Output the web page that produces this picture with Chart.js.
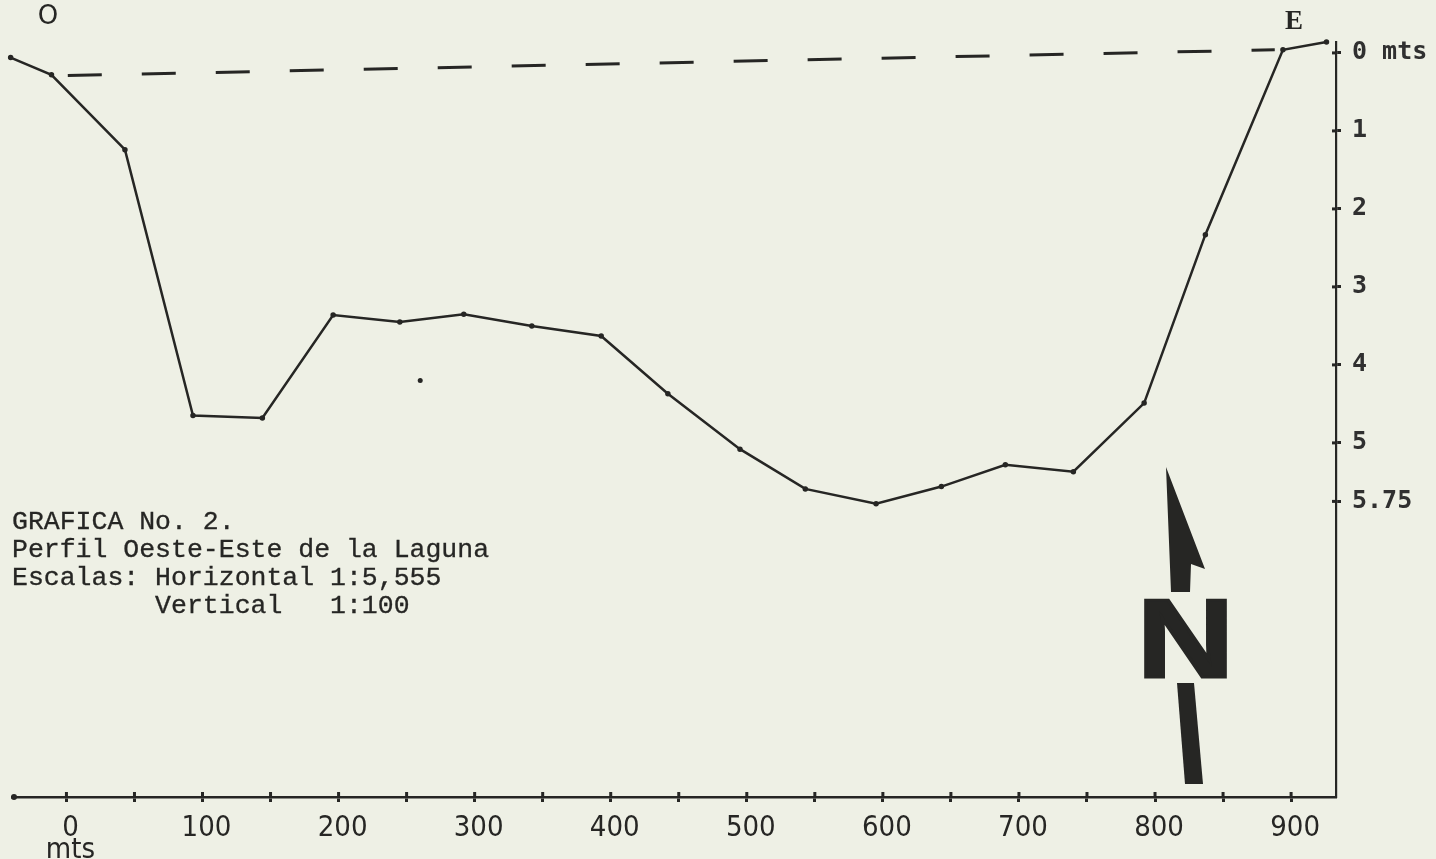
<!DOCTYPE html>
<html>
<head>
<meta charset="utf-8">
<title>Perfil Oeste-Este de la Laguna</title>
<script src="https://cdn.jsdelivr.net/npm/chart.js@4/dist/chart.umd.min.js"></script>
<style>
  html, body { margin: 0; padding: 0; background: #eef0e5; }
  #wrap { width: 1436px; height: 859px; position: relative; }
</style>
</head>
<body>
<div id="wrap"><canvas id="perfil"></canvas></div>
<script>
// distancia horizontal (mts) y profundidad (mts) del perfil
const distancias = [-41, -11, 43, 93, 144, 196, 245, 292, 342, 393, 442, 495, 543, 595, 643, 690, 740, 792, 837, 894, 926];
const profundidades = [0.06, 0.28, 1.24, 4.65, 4.68, 3.36, 3.45, 3.35, 3.50, 3.63, 4.37, 5.08, 5.59, 5.78, 5.56, 5.28, 5.37, 4.49, 2.33, -0.04, -0.14];

// nivel del agua (linea punteada)
const nivelDist = [1, 888];
const nivelProf = [0.29, -0.04];

// punto suelto del original
const puntoDist = [260];
const puntoProf = [4.2];

const ticksX = [0, 50, 100, 150, 200, 250, 300, 350, 400, 450, 500, 550, 600, 650, 700, 750, 800, 850, 900];
const ticksY = [0, 1, 2, 3, 4, 5, 5.75];

const notas = [
    'GRAFICA No. 2.',
    'Perfil Oeste-Este de la Laguna',
    'Escalas: Horizontal 1:5,555',
    '         Vertical   1:100'
];

const ink = '#262624';

function toPoints(xs, ys) {
    return xs.map((x, i) => ({ x: x, y: ys[i] }));
}

// dibuja las marcas que cruzan los ejes, textos y la flecha del norte
const decoraciones = {
    id: 'decoraciones',
    afterDraw(chart) {
        const ctx = chart.ctx;
        const area = chart.chartArea;
        const sx = chart.scales.x;
        const sy = chart.scales.y;
        ctx.save();
        ctx.strokeStyle = ink;
        ctx.fillStyle = ink;

        // mitad interior de las marcas
        ctx.lineWidth = 3;
        sx.ticks.forEach(t => {
            const px = sx.getPixelForValue(t.value);
            ctx.beginPath();
            ctx.moveTo(px, area.bottom - 5);
            ctx.lineTo(px, area.bottom);
            ctx.stroke();
        });
        sy.ticks.forEach(t => {
            const py = sy.getPixelForValue(t.value);
            ctx.beginPath();
            ctx.moveTo(area.right - 4, py);
            ctx.lineTo(area.right, py);
            ctx.stroke();
        });
        ctx.beginPath();
        ctx.arc(area.left + 2, area.bottom, 3, 0, Math.PI * 2);
        ctx.fill();

        // textos
        ctx.textBaseline = 'middle';
        ctx.textAlign = 'left';
        ctx.font = '26.5px "Liberation Mono", monospace';
        ctx.lineWidth = 0.3;
        notas.forEach((linea, i) => {
            const y = 522 + i * 28;
            ctx.fillText(linea, 12, y);
            ctx.strokeText(linea, 12, y);
        });

        ctx.font = '26px "DejaVu Sans", sans-serif';
        ctx.textAlign = 'center';
        ctx.fillText('O', 48, 17);
        ctx.font = 'bold 27px "Liberation Serif", serif';
        ctx.fillText('E', 1294, 22);

        // flecha del norte
        ctx.beginPath();
        ctx.moveTo(1166, 467);
        ctx.lineTo(1205, 569);
        ctx.lineTo(1191, 564);
        ctx.lineTo(1190, 592);
        ctx.lineTo(1171, 592);
        ctx.closePath();
        ctx.fill();

        ctx.save();
        ctx.translate(1137, 677);
        ctx.scale(1.2, 1);
        ctx.font = 'bold 112px "Liberation Sans", sans-serif';
        ctx.textAlign = 'left';
        ctx.textBaseline = 'alphabetic';
        ctx.fillText('N', 0, 0);
        ctx.lineWidth = 3;
        ctx.strokeText('N', 0, 0);
        ctx.restore();

        ctx.beginPath();
        ctx.moveTo(1177, 683);
        ctx.lineTo(1194, 683);
        ctx.lineTo(1203, 784);
        ctx.lineTo(1185, 784);
        ctx.closePath();
        ctx.fill();

        ctx.restore();
    }
};

const fondo = {
    id: 'fondo',
    beforeDraw(chart) {
        const ctx = chart.ctx;
        ctx.save();
        ctx.fillStyle = '#eef0e5';
        ctx.fillRect(0, 0, chart.width, chart.height);
        ctx.restore();
    }
};

new Chart(document.getElementById('perfil'), {
    type: 'line',
    data: {
        datasets: [
            {
                label: 'Perfil',
                data: toPoints(distancias, profundidades),
                borderColor: ink,
                backgroundColor: ink,
                borderWidth: 2.5,
                pointRadius: 1.5,
                tension: 0,
                clip: false
            },
            {
                label: 'Nivel',
                data: toPoints(nivelDist, nivelProf),
                borderColor: ink,
                borderWidth: 3,
                borderDash: [34, 40],
                pointRadius: 0,
                clip: false
            },
            {
                label: 'Punto',
                data: toPoints(puntoDist, puntoProf),
                showLine: false,
                pointRadius: 2.5,
                backgroundColor: ink,
                borderWidth: 0
            }
        ]
    },
    options: {
        responsive: true,
        maintainAspectRatio: false,
        animation: false,
        layout: { padding: { left: 12, top: 42, right: 0, bottom: 0 } },
        plugins: {
            legend: { display: false },
            tooltip: { enabled: false }
        },
        scales: {
            x: {
                type: 'linear',
                min: -40,
                max: 933,
                afterBuildTicks: s => { s.ticks = ticksX.map(v => ({ value: v })); },
                afterFit: s => { s.height = 62; },
                border: { color: ink, width: 2.5 },
                grid: { drawOnChartArea: false, color: ink, tickLength: 5, tickWidth: 3 },
                ticks: {
                    autoSkip: false,
                    maxRotation: 0,
                    padding: 15,
                    labelOffset: 4,
                    color: ink,
                    font: { family: '"Liberation Sans Narrow", "DejaVu Sans Condensed", sans-serif', size: 29, lineHeight: 0.78 },
                    callback: v => v === 0 ? ['0', 'mts'] : (v % 100 === 0 ? String(v) : '')
                }
            },
            y: {
                type: 'linear',
                position: 'right',
                reverse: true,
                min: -0.14,
                max: 9.54,
                afterBuildTicks: s => { s.ticks = ticksY.map(v => ({ value: v })); },
                afterFit: s => { s.width = 100; },
                border: { color: ink, width: 2.2 },
                grid: { drawOnChartArea: false, color: ink, tickLength: 5, tickWidth: 3 },
                ticks: {
                    autoSkip: false,
                    padding: 11,
                    color: '#303030',
                    font: { family: '"DejaVu Sans Mono", monospace', size: 25, weight: 'bold' },
                    callback: v => v === 0 ? '0 mts' : String(v)
                }
            }
        }
    },
    plugins: [fondo, decoraciones]
});
</script>
</body>
</html>
